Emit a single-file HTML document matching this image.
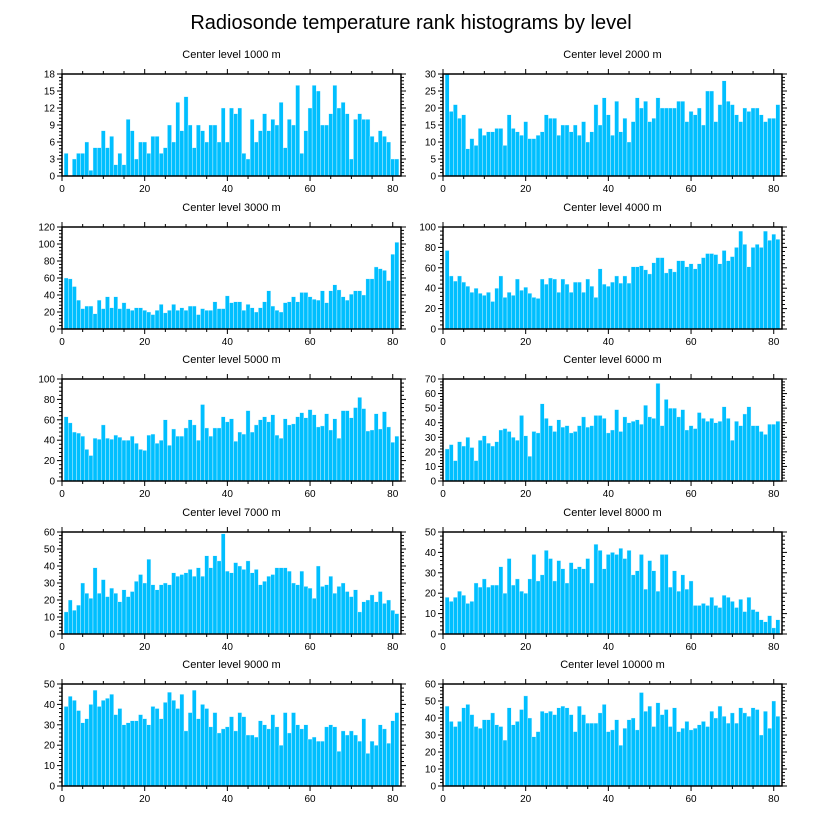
<!DOCTYPE html>
<html><head><meta charset="utf-8">
<style>
html,body{margin:0;padding:0;background:#fff;}
svg{display:block;font-family:"Liberation Sans",Arial,sans-serif;}
</style></head>
<body>
<svg id="chart" width="822" height="824" viewBox="0 0 822 824" xmlns="http://www.w3.org/2000/svg">
<rect width="822" height="824" fill="#fff"/>
<text x="411" y="29" text-anchor="middle" font-size="20" fill="#000">Radiosonde temperature rank histograms by level</text>
</svg>
<script>
const levels = ["1000","2000","3000","4000","5000","6000","7000","8000","9000","10000"];
const yMaxes = [18,30,120,100,100,70,60,50,50,60];
const ySteps = [3,5,20,20,20,10,10,10,10,10];
const xTicks = [0,20,40,60,80];
const v1000 = [4,0,3,4,4,6,1,5,5,8,5,7,2,4,2,10,8,3,6,6,4,7,7,4,5,9,6,13,8,14,9,5,9,8,6,9,9,6,12,6,12,11,12,4,3,10,6,8,11,8,10,9,13,5,10,9,16,4,8,12,16,15,9,9,11,16,12,13,11,3,10,11,10,10,7,6,8,7,6,3,3];
const v2000 = [30,19,21,17,18,8,11,9,14,12,13,13,14,14,9,18,14,13,12,16,11,11,12,13,18,17,17,12,15,15,13,15,12,16,10,13,21,15,23,18,12,22,13,17,10,16,23,20,22,16,17,23,20,20,20,20,22,22,16,19,18,20,15,25,25,16,21,28,22,21,18,16,20,19,20,20,18,16,17,17,21];
const v3000 = [60,59,50,34,24,27,27,18,34,24,38,25,38,24,31,24,22,25,25,22,20,17,22,29,19,22,29,22,25,22,27,27,17,24,22,22,32,24,24,39,31,32,32,22,29,25,20,25,32,45,27,22,20,31,32,38,32,43,43,38,35,34,45,31,45,52,46,38,34,41,45,45,40,59,59,73,71,69,57,88,102];
const v4000 = [77,52,47,52,46,42,36,40,35,33,36,27,40,52,31,36,33,49,38,41,35,31,30,49,44,50,49,36,49,44,36,46,46,36,49,42,31,59,44,42,46,52,45,52,45,61,61,62,58,54,65,70,70,55,59,56,67,67,61,64,59,64,70,74,74,73,64,77,67,71,80,96,83,61,80,83,80,96,87,93,88];
const v5000 = [63,57,48,47,44,31,25,42,41,55,42,41,45,43,40,40,44,37,31,30,45,46,37,40,60,35,51,44,44,52,60,55,40,75,52,44,52,52,63,58,61,39,48,46,69,48,55,60,63,58,65,45,42,61,55,56,63,67,62,70,65,53,54,66,50,61,42,69,69,62,72,82,71,49,50,66,51,68,53,38,44];
const v6000 = [22,25,14,27,24,30,23,14,28,31,26,24,27,35,36,34,30,28,45,31,17,34,33,53,43,38,34,42,37,38,33,34,38,44,37,38,45,45,43,33,35,49,34,44,40,41,42,39,52,44,43,67,38,56,50,50,44,49,35,38,36,47,43,41,43,40,41,51,43,28,41,38,46,51,38,38,34,32,39,39,41];
const v7000 = [13,20,14,17,30,24,21,39,24,32,22,27,24,19,26,22,25,31,35,30,44,29,26,29,30,29,36,34,35,36,38,34,39,34,46,39,46,43,59,37,36,42,40,38,43,36,38,29,31,34,35,39,39,39,37,30,29,37,28,27,21,40,28,29,34,24,28,30,25,22,26,13,19,20,23,19,25,18,20,14,12];
const v8000 = [18,16,18,21,19,15,16,25,23,27,23,24,24,33,20,37,24,27,21,20,27,39,26,29,41,37,26,36,32,25,35,32,33,32,37,25,44,41,32,39,40,39,42,37,41,29,31,39,22,36,31,21,39,39,23,31,21,29,22,26,14,14,15,14,18,14,13,19,18,16,13,17,11,18,12,11,7,6,9,3,7];
const v9000 = [39,44,42,37,31,33,40,47,39,42,43,45,35,38,30,31,32,32,35,33,30,39,38,33,41,46,42,38,45,27,36,47,33,40,38,29,36,26,28,29,34,27,36,34,25,25,24,32,30,28,35,29,20,36,26,36,30,28,30,23,24,22,22,29,30,29,17,27,25,27,25,22,33,16,22,20,30,28,21,32,36];
const v10000 = [47,38,35,38,46,48,42,35,34,39,39,43,36,35,27,46,36,38,45,53,40,29,32,44,43,44,42,46,47,46,42,32,47,42,37,37,37,43,48,32,33,39,24,34,39,40,33,55,44,47,35,49,42,45,35,46,32,34,38,33,34,36,38,35,44,40,47,41,37,43,37,46,43,41,46,45,30,44,34,50,41];
const series = [v1000,v2000,v3000,v4000,v5000,v6000,v7000,v8000,v9000,v10000];

const NS = "http://www.w3.org/2000/svg";
const svg = document.getElementById('chart');
const colX = [62, 443];
const rowY = [74, 227, 379, 532, 684];
const PW = 339, PH = 102, XMAX = 82;
function mk(tag, attrs, parent){const e=document.createElementNS(NS,tag);for(const k in attrs)e.setAttribute(k,attrs[k]);parent.appendChild(e);return e;}

series.forEach((vals, p) => {
  const x0 = colX[p % 2], y0 = rowY[Math.floor(p / 2)];
  const ymax = yMaxes[p], ystep = ySteps[p];
  const sx = v => x0 + v / XMAX * PW;
  const sy = v => y0 + PH - Math.min(v, ymax) / ymax * PH;
  const g = mk('g', {}, svg);
  
  
  const t = mk('text', {x: x0 + PW / 2, y: y0 - 16, 'text-anchor': 'middle', 'font-size': 11}, g);
  
  
  t.textContent = 'Center level ' + levels[p] + ' m';
  vals.forEach((v, i) => {
    const c = i + 1;
    const r = mk('rect', {x: sx(c - 0.5), y: sy(v), width: sx(c + 0.5) - sx(c - 0.5), height: sy(0) - sy(v), fill: '#00bfff', stroke: '#e8f8ff', 'stroke-width': 0.4}, g);
    
    
  });
  const f = mk('rect', {x: x0, y: y0, width: PW, height: PH, fill: 'none', stroke: '#000', 'stroke-width': 1.5}, g);
  
  
  for (let v = 0; v <= XMAX; v += 5) {
    const major = v % 20 === 0, L = major ? 5 : 3, X = sx(v);
    mk('line', {x1: X, x2: X, y1: y0 + PH, y2: y0 + PH + L, stroke: '#000', 'stroke-width': 1}, g);
    mk('line', {x1: X, x2: X, y1: y0, y2: y0 - L, stroke: '#000', 'stroke-width': 1}, g);
  }
  xTicks.forEach(v => {
    const tl = mk('text', {x: sx(v), y: y0 + PH + 16, 'text-anchor': 'middle', 'font-size': 10}, g);
    
    
    tl.textContent = v;
  });
  const minor = ystep / 5;
  for (let k = 0; k <= Math.round(ymax / minor); k++) {
    const v = k * minor, major = k % 5 === 0, L = major ? 5 : 3, Y = sy(v);
    mk('line', {x1: x0, x2: x0 - L, y1: Y, y2: Y, stroke: '#000', 'stroke-width': 1}, g);
    mk('line', {x1: x0 + PW, x2: x0 + PW + L, y1: Y, y2: Y, stroke: '#000', 'stroke-width': 1}, g);
  }
  for (let v = 0; v <= ymax + 1e-9; v += ystep) {
    const tl = mk('text', {x: x0 - 7, y: sy(v) + 3.5, 'text-anchor': 'end', 'font-size': 10}, g);
    
    
    tl.textContent = v;
  }
});
</script>
</body></html>
